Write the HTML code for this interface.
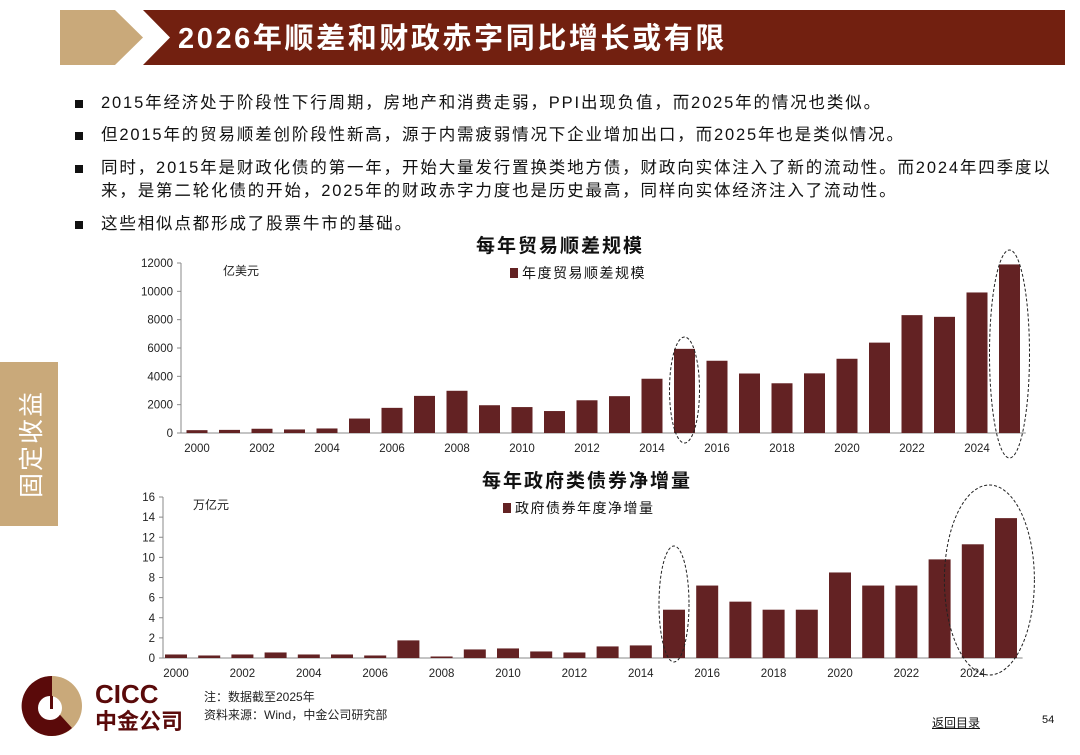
<!DOCTYPE html>
<html><head><meta charset="utf-8">
<style>
body{margin:0;width:1080px;height:755px;overflow:hidden;background:#fff;font-family:"Liberation Sans","Noto Sans CJK SC",sans-serif;position:relative}
.b{position:absolute;left:75px;width:990px;font-size:16.5px;letter-spacing:1.85px;color:#111;line-height:23px}
.b:before{content:"";position:absolute;left:0;top:8px;width:8px;height:8px;background:#111}
.b span{display:block;padding-left:26px}
</style></head><body>
<svg width="1080" height="70" style="position:absolute;left:0;top:0">
<polygon points="60,10 115,10 143,37.5 115,65 60,65" fill="#C9A97A"/>
<polygon points="143,10 1065,10 1065,65 143,65 170,37.5" fill="#722010"/>
<text x="178" y="48" fill="#fff" font-size="29" letter-spacing="2.6" font-weight="bold" font-family="Liberation Sans,Noto Sans CJK SC,sans-serif">2026年顺差和财政赤字同比增长或有限</text>
</svg>
<div class="b" style="top:92px"><span>2015年经济处于阶段性下行周期，房地产和消费走弱，PPI出现负值，而2025年的情况也类似。</span></div>
<div class="b" style="top:124px"><span>但2015年的贸易顺差创阶段性新高，源于内需疲弱情况下企业增加出口，而2025年也是类似情况。</span></div>
<div class="b" style="top:157px;width:985px"><span>同时，2015年是财政化债的第一年，开始大量发行置换类地方债，财政向实体注入了新的流动性。而2024年四季度以来，是第二轮化债的开始，2025年的财政赤字力度也是历史最高，同样向实体经济注入了流动性。</span></div>
<div class="b" style="top:213px"><span>这些相似点都形成了股票牛市的基础。</span></div>
<svg width="60" height="165" style="position:absolute;left:0;top:362px">
<rect x="0" y="0" width="58" height="164" fill="#C9A97A"/>
<text transform="translate(40,82) rotate(-90)" text-anchor="middle" fill="#fff" font-size="25" letter-spacing="2" font-family="Noto Sans CJK SC,sans-serif">固定收益</text>
</svg>
<svg id="chart" width="1080" height="755" style="position:absolute;left:0;top:0"></svg>
<svg width="200" height="70" style="position:absolute;left:0;top:672px">
<circle cx="52" cy="34" r="30" fill="#C9A97A"/>
<path d="M52 4 A30 30 0 1 0 72 56 L52 34 Z" fill="#5a0a0a"/>
<circle cx="50" cy="36" r="12" fill="#fff"/>
<rect x="50" y="24" width="3" height="13" fill="#5a0a0a"/>
<text x="95" y="31" font-size="26" font-weight="bold" fill="#5a0a0a" font-family="Liberation Sans,sans-serif">CICC</text>
<text x="95" y="57" font-size="22" font-weight="bold" fill="#5a0a0a" font-family="Noto Sans CJK SC,sans-serif">中金公司</text>
</svg>
<div style="position:absolute;left:204px;top:688px;font-size:12px;color:#222;line-height:18px">注：数据截至2025年<br>资料来源：Wind，中金公司研究部</div>
<div style="position:absolute;left:932px;top:714px;font-size:12px;color:#111;text-decoration:underline">返回目录</div>
<div style="position:absolute;left:1042px;top:714px;font-size:11px;color:#111">54</div>
<script>
const years=[2000,2001,2002,2003,2004,2005,2006,2007,2008,2009,2010,2011,2012,2013,2014,2015,2016,2017,2018,2019,2020,2021,2022,2023,2024,2025];
const tradeSurplus=[200,220,300,250,320,1020,1775,2620,2980,1960,1830,1550,2310,2600,3830,5940,5100,4200,3510,4210,5240,6380,8320,8200,9920,11900];
const tradeTicks=[0,2000,4000,6000,8000,10000,12000];
const govBonds=[0.35,0.25,0.35,0.55,0.35,0.35,0.25,1.75,0.15,0.85,0.95,0.65,0.55,1.15,1.25,4.8,7.2,5.6,4.8,4.8,8.5,7.2,7.2,9.8,11.3,13.9];
const bondTicks=[0,2,4,6,8,10,12,14,16];
const xLabels=[2000,2002,2004,2006,2008,2010,2012,2014,2016,2018,2020,2022,2024];
const svg=document.getElementById('chart');
const NS='http://www.w3.org/2000/svg';
function mk(t,a,p){const e=document.createElementNS(NS,t);for(const k in a)e.setAttribute(k,a[k]);(p||svg).appendChild(e);return e;}
function draw(o){
  const g=mk('g',{});
  
  
  const y=v=>o.y0-(v/o.max)*(o.y0-o.yTop);
  const x=i=>o.x0+i*o.step;
  mk('line',{x1:o.ax,y1:o.yTop,x2:o.ax,y2:o.y0,stroke:'#888'},g);
  mk('line',{x1:o.ax,y1:o.y0,x2:o.x0+25*o.step+o.step/2,y2:o.y0,stroke:'#888'},g);
  o.ticks.forEach(t=>{
    mk('line',{x1:o.ax-4,y1:y(t),x2:o.ax,y2:y(t),stroke:'#888'},g);
    const tx=mk('text',{x:o.ax-8,y:y(t)+4,'text-anchor':'end','font-size':11.5,fill:'#222'},g);tx.textContent=t;
    
    
  });
  o.vals.forEach((v,i)=>{
    const r=mk('rect',{x:x(i)-o.bw/2,y:y(v),width:o.bw,height:o.y0-y(v),fill:'#632223'},g);
    
    
  });
  xLabels.forEach(yr=>{
    const i=years.indexOf(yr);
    const tx=mk('text',{x:x(i),y:o.y0+19,'text-anchor':'middle','font-size':11.5,fill:'#222'},g);tx.textContent=yr;
    
    
  });
  const tt=mk('text',{x:o.titleX,y:o.titleY,'text-anchor':'middle','font-size':19,'letter-spacing':2,'font-weight':'bold',fill:'#111'},g);tt.textContent=o.title;
  
  
  const un=mk('text',{x:o.unitX,y:o.yTop+12,'font-size':12,fill:'#222'},g);un.textContent=o.unit;
  
  
  const lr=mk('rect',{x:o.legX,y:o.legY-10,width:8,height:10,fill:'#632223'},g);
  
  
  const lt=mk('text',{x:o.legX+12,y:o.legY,'font-size':14,'letter-spacing':1.5,fill:'#111'},g);lt.textContent=o.legend;
  
  
  o.ellipses.forEach(e=>{
    const el=mk('ellipse',{cx:x(e.i),cy:e.cy,rx:e.rx,ry:e.ry,fill:'none',stroke:'#222','stroke-dasharray':'3,2'},g);
    
    
  });
}
draw({name:'trade-surplus-chart',vals:tradeSurplus,ticks:tradeTicks,max:12000,y0:433,yTop:263,ax:181,x0:197,step:32.5,bw:21,
 title:'每年贸易顺差规模',titleX:560,titleY:252,unit:'亿美元',unitX:223,legend:'年度贸易顺差规模',legX:510,legY:278,
 ellipses:[{i:15,cy:390,rx:15,ry:53},{i:25,cy:354,rx:20,ry:104}]});
draw({name:'gov-bond-chart',vals:govBonds,ticks:bondTicks,max:16,y0:658,yTop:497,ax:163,x0:176,step:33.2,bw:22,
 title:'每年政府类债券净增量',titleX:587,titleY:487,unit:'万亿元',unitX:193,legend:'政府债券年度净增量',legX:503,legY:513,
 ellipses:[{i:15,cy:604,rx:15,ry:58},{i:24.5,cy:580,rx:45,ry:95}]});
</script>
</body></html>
